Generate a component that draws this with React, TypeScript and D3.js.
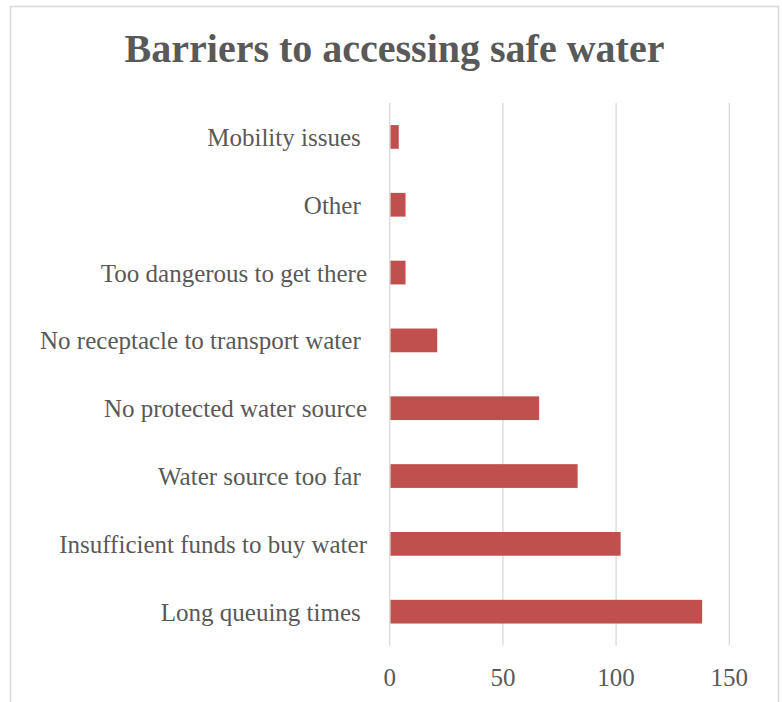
import React from "react";
import * as d3 from "d3";

const categories = [
  "Mobility issues ",
  "Other ",
  "Too dangerous to get there",
  "No receptacle to transport water ",
  "No protected water source",
  "Water source too far ",
  "Insufficient funds to buy water",
  "Long queuing times ",
];
const values = [4, 7, 7, 21, 66, 83, 102, 138];
const tickValues = [0, 50, 100, 150];
const title = "Barriers to accessing safe water";

const W = 782;
const H = 702;
const font = "'Liberation Serif', 'Times New Roman', serif";
const textColor = "#595959";
const gridColor = "#d9d9d9";
const barColor = "#c0504d";

export default function App() {
  const x = d3.scaleLinear().domain([0, 150]).range([389.7, 729.3]);
  const y = d3
    .scaleBand<string>()
    .domain(categories)
    .range([103, 645.6])
    .paddingInner(0.65)
    .paddingOuter(0.325);

  return (
    <svg
      width={W}
      height={H}
      style={{ position: "absolute", left: 0, top: 0, background: "#fff" }}
    >
      <rect x={0} y={0} width={W} height={H} fill="#fff" />
      <rect
        x={10.5}
        y={6.5}
        width={768}
        height={H + 20}
        fill="none"
        stroke={gridColor}
        strokeWidth={1.5}
      />
      <text
        x={394.5}
        y={62}
        textAnchor="middle"
        fontFamily={font}
        fontWeight="bold"
        fontSize={40}
        fill={textColor}
      >
        {title}
      </text>
      {tickValues.map((t) => (
        <line
          key={"g" + t}
          x1={x(t)}
          x2={x(t)}
          y1={103}
          y2={645.6}
          stroke={gridColor}
          strokeWidth={1.3}
        />
      ))}
      {categories.map((c, i) => (
        <rect
          key={"b" + i}
          x={x(0) + 0.8}
          y={y(c)}
          width={x(values[i]) - x(0) - 0.8}
          height={y.bandwidth()}
          fill={barColor}
        />
      ))}
      {categories.map((c, i) => (
        <text
          key={"l" + i}
          x={367}
          y={(y(c) as number) + y.bandwidth() / 2 + 9}
          textAnchor="end"
          fontFamily={font}
          fontSize={25}
          fill={textColor}
          style={{ whiteSpace: "pre" }}
        >
          {c}
        </text>
      ))}
      {tickValues.map((t) => (
        <text
          key={"t" + t}
          x={x(t)}
          y={686}
          textAnchor="middle"
          fontFamily={font}
          fontSize={25}
          fill={textColor}
        >
          {t}
        </text>
      ))}
    </svg>
  );
}
